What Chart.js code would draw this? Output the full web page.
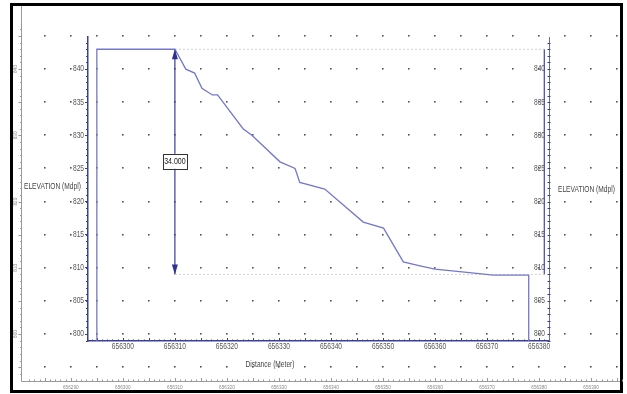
<!DOCTYPE html>
<html>
<head>
<meta charset="utf-8">
<script src="https://cdn.jsdelivr.net/npm/chart.js@4.4.1/dist/chart.umd.min.js"></script>
<style>
html, body { margin: 0; padding: 0; background: #fff; }
canvas { display: block; }
</style>
</head>
<body>
<canvas id="profileChart" width="627" height="394"></canvas>
<script>
// profile (distance in m, elevation in mdpl)
const profileDist = [656295, 656295, 656310, 656312.1, 656313.8, 656315.2, 656317.2, 656318.2, 656323.1, 656324.8, 656330.2, 656333.1, 656334, 656338.8, 656346.2, 656350.1, 656353.9, 656357.1, 656360, 656365.2, 656371.2, 656378, 656378];
const profileElev = [798.95, 843, 843, 840, 839.4, 837.1, 836.1, 836.1, 831, 830, 826, 825, 822.9, 821.9, 816.9, 816, 810.9, 810.3, 809.8, 809.4, 808.9, 808.9, 798.95];

// end markers and dimension
const endDist = 656381;
const topElev = 843;
const lowElev = 809;
const dimDist = 656310;
const dimLabel = '34.000';

// axes
const distMin = 656293.3;
const distMax = 656381.9;
const elevMin = 798.95;
const elevMax = 844.85;
const distTicks = [656300, 656310, 656320, 656330, 656340, 656350, 656360, 656370, 656380];
const elevTicks = [800, 805, 810, 815, 820, 825, 830, 835, 840];
const rulerDistTicks = [656290, 656300, 656310, 656320, 656330, 656340, 656350, 656360, 656370, 656380, 656390];
const rulerElevTicks = [800, 810, 820, 830, 840];

const fontFam = "'Liberation Sans', Arial, sans-serif";
const squeeze = 0.78; // narrow look of the original font
const axisBlue = '#3b3f99';
const lineBlue = '#7478cc';

const profilePoints = profileDist.map((d, i) => ({ x: d, y: profileElev[i] }));

function narrowText(ctx, text, x, y, size, align) {
    ctx.save();
    ctx.font = size + 'px ' + fontFam;
    ctx.textAlign = align;
    ctx.textBaseline = 'middle';
    ctx.translate(x, y);
    ctx.scale(squeeze, 1);
    ctx.fillText(text, 0, 0);
    ctx.restore();
}

const drawingPlugin = {
    id: 'drawing',
    beforeDatasetsDraw(chart) {
        const ctx = chart.ctx;
        const xs = chart.scales.x;
        const ys = chart.scales.y;
        const y2 = chart.scales.y2;
        const { left, right, bottom } = chart.chartArea;
        ctx.save();
        // frame
        ctx.strokeStyle = '#000';
        ctx.lineWidth = 3;
        ctx.strokeRect(11.5, 4.5, 610, 387);

        // rulers
        ctx.strokeStyle = '#999';
        ctx.lineWidth = 1;
        ctx.beginPath();
        ctx.moveTo(21.5, 6);
        ctx.lineTo(21.5, 381.5);
        ctx.lineTo(620, 381.5);
        ctx.stroke();
        ctx.beginPath();
        for (let e = 794; e <= 846; e++) {
            const y = Math.round(ys.getPixelForValue(e)) + 0.5;
            const len = e % 5 === 0 ? 3 : 1.5;
            ctx.moveTo(21.5 - len, y);
            ctx.lineTo(21.5, y);
        }
        for (let d = 656282; d <= 656397; d++) {
            const x = Math.round(xs.getPixelForValue(d)) + 0.5;
            const len = d % 5 === 0 ? 3.5 : 2;
            ctx.moveTo(x, 381.5);
            ctx.lineTo(x, 381.5 - len);
        }
        ctx.stroke();
        ctx.fillStyle = '#8a8a8a';
        rulerDistTicks.forEach(d => {
            narrowText(ctx, String(d), xs.getPixelForValue(d), 387.5, 6, 'center');
        });
        rulerElevTicks.forEach(e => {
            ctx.save();
            ctx.translate(15.5, ys.getPixelForValue(e));
            ctx.rotate(-Math.PI / 2);
            narrowText(ctx, String(e), 0, 0, 6, 'center');
            ctx.restore();
        });

        // dot grid
        ctx.fillStyle = '#555';
        for (let d = 656285; d <= 656395; d += 5) {
            for (let e = 795; e <= 845; e += 5) {
                const x = Math.round(xs.getPixelForValue(d));
                const y = Math.round(ys.getPixelForValue(e));
                ctx.fillRect(x - 1, y - 1, 1.6, 1.6);
            }
        }

        // minor ticks on the axes
        ctx.strokeStyle = axisBlue;
        ctx.lineWidth = 1;
        ctx.beginPath();
        for (let e = 799; e <= 844; e++) {
            const y = Math.round(ys.getPixelForValue(e)) + 0.5;
            ctx.moveTo(left - 2, y);
            ctx.lineTo(left, y);
            ctx.moveTo(right - 1.5, y);
            ctx.lineTo(right + 1.5, y);
        }
        for (let d = 656294; d <= 656381; d++) {
            const x = Math.round(xs.getPixelForValue(d)) + 0.5;
            const len = d % 5 === 0 ? 3 : 1.5;
            ctx.moveTo(x, bottom);
            ctx.lineTo(x, bottom - len);
        }
        ctx.stroke();

        // tick labels, placed by the scales
        ctx.fillStyle = '#555';
        xs.ticks.forEach(t => narrowText(ctx, String(t.value), xs.getPixelForValue(t.value), bottom + 5.5, 8.5, 'center'));
        ys.ticks.forEach(t => narrowText(ctx, String(t.value), left - 4, ys.getPixelForValue(t.value), 8.5, 'right'));
        y2.ticks.forEach(t => narrowText(ctx, String(t.value), right - 4, y2.getPixelForValue(t.value), 8.5, 'right'));

        // axis titles
        ctx.fillStyle = '#444';
        narrowText(ctx, 'ELEVATION (Mdpl)', 24, 187, 8.5, 'left');
        narrowText(ctx, 'ELEVATION (Mdpl)', 558, 190, 8.5, 'left');
        narrowText(ctx, 'Distance (Meter)', 270, 365, 8.5, 'center');
        ctx.restore();
    },
    afterDatasetsDraw(chart) {
        const ctx = chart.ctx;
        const xs = chart.scales.x;
        const ys = chart.scales.y;
        const x = xs.getPixelForValue(dimDist);
        const yTop = ys.getPixelForValue(topElev);
        const yLow = ys.getPixelForValue(lowElev);
        ctx.save();
        ctx.fillStyle = '#2e3190';
        ctx.beginPath();
        ctx.moveTo(x, yTop);
        ctx.lineTo(x - 3, yTop + 10);
        ctx.lineTo(x + 3, yTop + 10);
        ctx.closePath();
        ctx.fill();
        ctx.beginPath();
        ctx.moveTo(x, yLow);
        ctx.lineTo(x - 3, yLow - 10);
        ctx.lineTo(x + 3, yLow - 10);
        ctx.closePath();
        ctx.fill();

        // dimension label box
        const yMid = ys.getPixelForValue((topElev + lowElev) / 2);
        ctx.fillStyle = '#fff';
        ctx.fillRect(x - 12, yMid - 8, 24, 15);
        ctx.strokeStyle = '#333';
        ctx.lineWidth = 1;
        ctx.strokeRect(Math.round(x - 12) + 0.5, Math.round(yMid - 8) + 0.5, 24, 15);
        ctx.fillStyle = '#222';
        narrowText(ctx, dimLabel, x, yMid, 9, 'center');
        ctx.restore();
    }
};

new Chart(document.getElementById('profileChart'), {
    type: 'scatter',
    data: {
        datasets: [
            {
                label: 'Profile',
                data: profilePoints,
                showLine: true,
                borderColor: lineBlue,
                borderWidth: 1.3,
                pointRadius: 0,
                tension: 0
            },
            {
                label: 'Top',
                data: [{ x: dimDist, y: topElev }, { x: endDist, y: topElev }],
                showLine: true,
                borderColor: '#cfcfcf',
                borderWidth: 1,
                borderDash: [2, 2],
                pointRadius: 0
            },
            {
                label: 'Low',
                data: [{ x: dimDist, y: lowElev }, { x: endDist, y: lowElev }],
                showLine: true,
                borderColor: '#cfcfcf',
                borderWidth: 1,
                borderDash: [2, 2],
                pointRadius: 0
            },
            {
                label: 'End',
                data: [{ x: endDist, y: topElev }, { x: endDist, y: lowElev }],
                showLine: true,
                borderColor: '#4f53b0',
                borderWidth: 1.3,
                pointRadius: 0
            },
            {
                label: 'Dimension',
                data: [{ x: dimDist, y: topElev }, { x: dimDist, y: lowElev }],
                showLine: true,
                borderColor: '#3a3d9c',
                borderWidth: 1.2,
                pointRadius: 0
            }
        ]
    },
    options: {
        responsive: false,
        animation: false,
        layout: { padding: { left: 64, right: 74, top: 37, bottom: 41 } },
        plugins: {
            legend: { display: false },
            tooltip: { enabled: false }
        },
        scales: {
            x: {
                type: 'linear',
                position: 'bottom',
                min: distMin,
                max: distMax,
                afterBuildTicks: s => { s.ticks = distTicks.map(v => ({ value: v })); },
                afterFit: s => { s.height = 12; },
                grid: { drawOnChartArea: false, drawTicks: false },
                border: { color: axisBlue, width: 1.5 },
                ticks: { display: false }
            },
            y: {
                type: 'linear',
                position: 'left',
                min: elevMin,
                max: elevMax,
                afterBuildTicks: s => { s.ticks = elevTicks.map(v => ({ value: v })); },
                afterFit: s => { s.width = 24; },
                grid: { drawOnChartArea: false, tickLength: 3, color: axisBlue },
                border: { color: axisBlue, width: 1.5 },
                ticks: { display: false }
            },
            y2: {
                type: 'linear',
                position: 'right',
                min: elevMin,
                max: elevMax,
                afterBuildTicks: s => { s.ticks = elevTicks.map(v => ({ value: v })); },
                afterFit: s => { s.width = 4; },
                grid: { drawOnChartArea: false, drawTicks: false },
                border: { color: '#6569bf', width: 1, dash: [1, 1] },
                ticks: { display: false }
            }
        }
    },
    plugins: [drawingPlugin]
});
</script>
</body>
</html>
